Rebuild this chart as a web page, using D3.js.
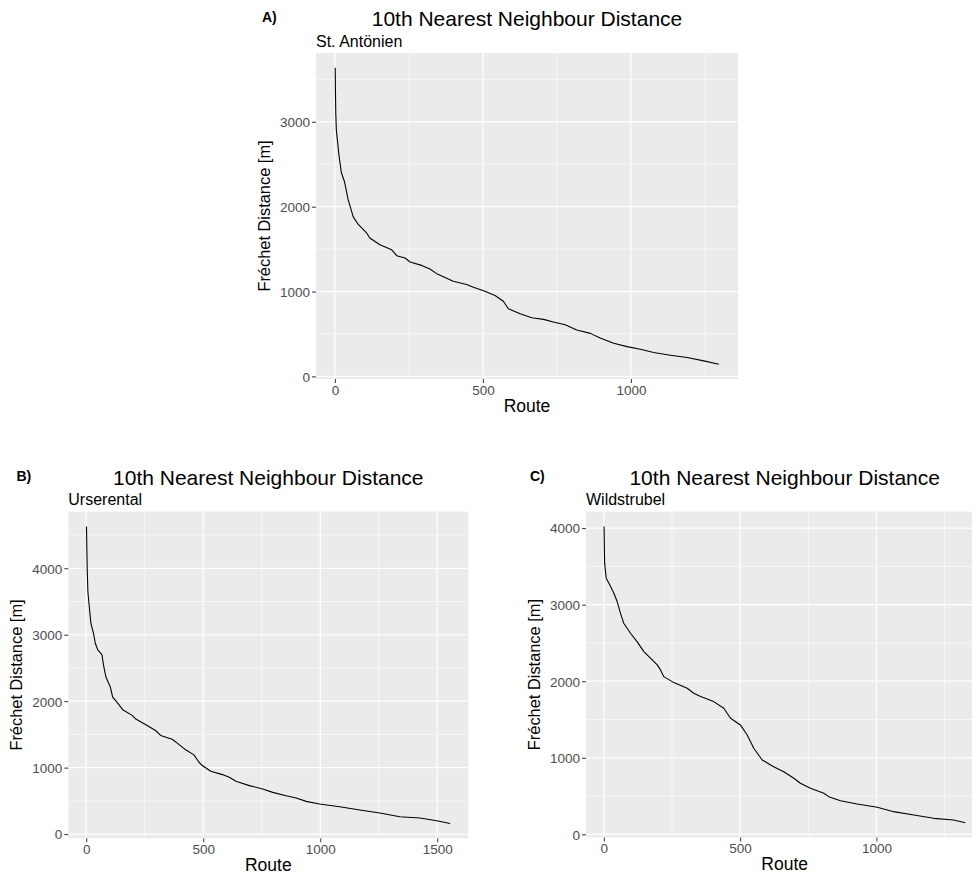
<!DOCTYPE html>
<html>
<head>
<meta charset="utf-8">
<script src="https://cdn.jsdelivr.net/npm/d3@7"></script>
<style>
	body { margin: 0; background: #fff; }
	svg { display: block; }
	text { font-family: "Liberation Sans", Arial, Helvetica, sans-serif; }
</style>
</head>
<body>
<script>
// values, sorted route rank -> distance
var routeA = [1, 2, 3, 5, 8, 14, 22, 32, 45, 62, 79, 107, 118, 152, 192, 209, 237, 254, 293, 321, 344, 400, 445, 468, 507, 541, 569, 586, 626, 665, 705, 738, 778, 817, 863, 896, 942, 987, 1032, 1077, 1133, 1190, 1246, 1297];
var distA = [3636, 3350, 3100, 2900, 2800, 2600, 2400, 2300, 2080, 1880, 1790, 1690, 1630, 1551, 1492, 1422, 1395, 1348, 1308, 1265, 1211, 1121, 1082, 1051, 1004, 953, 886, 797, 738, 691, 672, 640, 609, 546, 507, 452, 390, 351, 320, 281, 250, 222, 183, 144];

var routeB = [1, 4, 7, 13, 20, 31, 39, 50, 67, 74, 84, 103, 113, 131, 156, 196, 210, 253, 296, 318, 367, 389, 425, 460, 482, 496, 532, 582, 611, 640, 697, 754, 797, 854, 897, 940, 997, 1083, 1169, 1255, 1340, 1426, 1498, 1555];
var distB = [4628, 4000, 3647, 3421, 3170, 3019, 2868, 2767, 2702, 2540, 2364, 2213, 2062, 1987, 1872, 1786, 1736, 1650, 1559, 1484, 1428, 1368, 1268, 1192, 1081, 1031, 945, 895, 855, 794, 729, 679, 628, 578, 543, 492, 453, 412, 362, 317, 261, 241, 201, 160];

var routeC = [1, 3, 9, 25, 37, 49, 61, 73, 98, 122, 147, 171, 196, 208, 220, 257, 306, 330, 355, 403, 440, 465, 501, 526, 550, 581, 623, 660, 697, 721, 758, 807, 825, 868, 929, 1003, 1063, 1137, 1210, 1283, 1326];
var distC = [4021, 3542, 3346, 3237, 3150, 3041, 2889, 2758, 2627, 2518, 2387, 2301, 2213, 2148, 2060, 1982, 1908, 1843, 1799, 1734, 1647, 1516, 1429, 1298, 1124, 971, 884, 818, 732, 667, 601, 536, 492, 439, 396, 353, 296, 252, 209, 187, 152];

var xTicksA = [0, 500, 1000], yTicksA = [0, 1000, 2000, 3000];
var xTicksB = [0, 500, 1000, 1500], yTicksB = [0, 1000, 2000, 3000, 4000];
var xTicksC = [0, 500, 1000], yTicksC = [0, 1000, 2000, 3000, 4000];

var tags = ["A)", "B)", "C)"];
var subtitles = ["St. Antönien", "Urserental", "Wildstrubel"];
var mainTitle = "10th Nearest Neighbour Distance";
var xTitle = "Route", yTitle = "Fréchet Distance [m]";

var svg = d3.select("body").append("svg")
	.attr("width", 972)
	.attr("height", 875);

function translate(x, y)
{
	return "translate(" + x + "," + y + ")";
}

// ggplot style 5% padding on both ends
function expand(ext)
{
	var pad = (ext[1] - ext[0]) * 0.05;
	return [ext[0] - pad, ext[1] + pad];
}

// minor breaks halfway between majors, one step beyond each end if it fits
function minorBreaks(major, domain)
{
	var step = major[1] - major[0], out = [];
	var b = [major[0] - step].concat(major, [major[major.length - 1] + step]);
	for(var i = 0; i < b.length - 1; i++)
	{
		var m = (b[i] + b[i + 1]) / 2;
		if(m > domain[0] && m < domain[1]) out.push(m);
	}
	return out;
}

function makePanel(p)
{
	var width = p.right - p.left,
		height = p.bottom - p.top,
		data = p.route.map(function(r, i){ return {r: r, d: p.dist[i]}; });

	var x = d3.scaleLinear()
		.domain(expand(d3.extent(p.route)))
		.range([0, width]);
	var y = d3.scaleLinear()
		.domain(expand(d3.extent(p.dist)))
		.range([height, 0]);

	var g = svg.append("g").attr("transform", translate(p.left, p.top));

	g.append("rect")
		.attr("width", width)
		.attr("height", height)
		.attr("fill", "#EBEBEB");

	// grid
	g.selectAll(".minor-x").data(minorBreaks(p.xTicks, x.domain())).enter().append("line")
		.attr("x1", x).attr("x2", x).attr("y1", 0).attr("y2", height)
		.attr("stroke", "#fff").attr("stroke-width", 0.6);
	g.selectAll(".minor-y").data(minorBreaks(p.yTicks, y.domain())).enter().append("line")
		.attr("y1", y).attr("y2", y).attr("x1", 0).attr("x2", width)
		.attr("stroke", "#fff").attr("stroke-width", 0.6);
	g.selectAll(".major-x").data(p.xTicks).enter().append("line")
		.attr("x1", x).attr("x2", x).attr("y1", 0).attr("y2", height)
		.attr("stroke", "#fff").attr("stroke-width", 1.2);
	g.selectAll(".major-y").data(p.yTicks).enter().append("line")
		.attr("y1", y).attr("y2", y).attr("x1", 0).attr("x2", width)
		.attr("stroke", "#fff").attr("stroke-width", 1.2);

	var line = d3.line()
		.x(function(d){ return x(d.r); })
		.y(function(d){ return y(d.d); });

	g.append("path")
		.datum(data)
		.attr("d", line)
		.attr("fill", "none")
		.attr("stroke", "#000")
		.attr("stroke-width", 1.1)
		.attr("stroke-linejoin", "round");

	// axes
	var xAxis = g.append("g")
		.attr("transform", translate(0, height))
		.call(d3.axisBottom(x).tickValues(p.xTicks).tickSize(4).tickPadding(2).tickFormat(d3.format("d")));
	var yAxis = g.append("g")
		.call(d3.axisLeft(y).tickValues(p.yTicks).tickSize(4).tickPadding(2).tickFormat(d3.format("d")));
	[xAxis, yAxis].forEach(function(a)
	{
		a.select(".domain").remove();
		a.selectAll(".tick line").attr("stroke", "#333333").attr("stroke-width", 1);
		a.selectAll(".tick text")
			.attr("fill", "#4D4D4D")
			.style("font-size", "13.5px")
			.style("font-family", "'Liberation Sans', Arial, sans-serif");
	});
	yAxis.selectAll(".tick text").attr("dy", "0.36em");

	g.append("text")
		.attr("x", width / 2)
		.attr("y", height + 33)
		.attr("text-anchor", "middle")
		.style("font-size", "17.5px")
		.text(xTitle);

	g.append("text")
		.attr("transform", translate(-46, height / 2) + " rotate(-90)")
		.attr("text-anchor", "middle")
		.style("font-size", "16.4px")
		.text(yTitle);

	g.append("text")
		.attr("x", width / 2)
		.attr("y", -27)
		.attr("text-anchor", "middle")
		.style("font-size", "21px")
		.text(mainTitle);

	g.append("text")
		.attr("x", 0)
		.attr("y", -6.5)
		.style("font-size", "16px")
		.text(p.sub);

	svg.append("text")
		.attr("x", p.tagX)
		.attr("y", p.top - 31)
		.attr("font-weight", "bold")
		.style("font-size", "14px")
		.text(p.tag);
}

var panels = [
	{tag: tags[0], sub: subtitles[0], route: routeA, dist: distA, xTicks: xTicksA, yTicks: yTicksA,
		left: 316, right: 738, top: 53, bottom: 379, tagX: 262},
	{tag: tags[1], sub: subtitles[1], route: routeB, dist: distB, xTicks: xTicksB, yTicks: yTicksB,
		left: 68.3, right: 468.3, top: 511.7, bottom: 838.3, tagX: 16.5},
	{tag: tags[2], sub: subtitles[2], route: routeC, dist: distC, xTicks: xTicksC, yTicks: yTicksC,
		left: 586, right: 983.4, top: 511.7, bottom: 837.5, tagX: 530}
];

panels.forEach(makePanel);
</script>
</body>
</html>
